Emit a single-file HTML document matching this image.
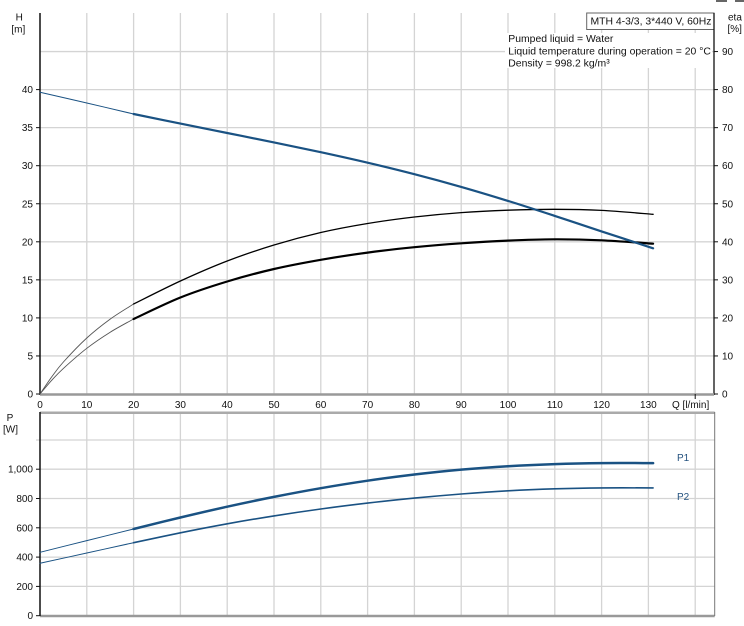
<!DOCTYPE html>
<html><head><meta charset="utf-8"><style>
html,body{margin:0;padding:0;background:#fff;}
svg{display:block;}
text{font-family:"Liberation Sans",Arial,sans-serif;font-size:10px;fill:#111;}
.lg{font-size:10.4px;}
</style></head><body>
<svg id="chart" width="744" height="626" viewBox="0 0 744 626" xmlns="http://www.w3.org/2000/svg">
<rect x="0" y="0" width="744" height="626" fill="#fff"/>
<rect x="716" y="0" width="11" height="2" fill="#666"/>
<rect x="735" y="0" width="9" height="2" fill="#666"/>

<g stroke="#d4d4d4" stroke-width="1.3">
<line x1="86.8" y1="13" x2="86.8" y2="394"/><line x1="133.6" y1="13" x2="133.6" y2="394"/>
<line x1="180.4" y1="13" x2="180.4" y2="394"/><line x1="227.2" y1="13" x2="227.2" y2="394"/>
<line x1="274" y1="13" x2="274" y2="394"/><line x1="320.8" y1="13" x2="320.8" y2="394"/>
<line x1="367.6" y1="13" x2="367.6" y2="394"/><line x1="414.4" y1="13" x2="414.4" y2="394"/>
<line x1="461.2" y1="13" x2="461.2" y2="394"/><line x1="508" y1="13" x2="508" y2="394"/>
<line x1="554.8" y1="13" x2="554.8" y2="394"/><line x1="601.6" y1="13" x2="601.6" y2="394"/>
<line x1="648.4" y1="13" x2="648.4" y2="394"/><line x1="695.2" y1="13" x2="695.2" y2="394"/>
<line x1="40" y1="355.95" x2="714" y2="355.95"/><line x1="40" y1="317.9" x2="714" y2="317.9"/>
<line x1="40" y1="279.85" x2="714" y2="279.85"/><line x1="40" y1="241.8" x2="714" y2="241.8"/>
<line x1="40" y1="203.75" x2="714" y2="203.75"/><line x1="40" y1="165.7" x2="714" y2="165.7"/>
<line x1="40" y1="127.65" x2="714" y2="127.65"/><line x1="40" y1="89.6" x2="714" y2="89.6"/>
<line x1="40" y1="51.55" x2="714" y2="51.55"/>
</g>

<rect x="505" y="33" width="207" height="35" fill="#fff"/>
<text class="lg" x="508.3" y="42">Pumped liquid = Water</text>
<text class="lg" x="508.3" y="54.5">Liquid temperature during operation = 20 °C</text>
<text class="lg" x="508.3" y="66.5">Density = 998.2 kg/m³</text>

<rect x="586.7" y="13" width="127.3" height="16.5" fill="#fff" stroke="#666" stroke-width="1"/>
<text class="lg" x="590.5" y="24.5">MTH 4-3/3, 3*440 V, 60Hz</text>

<line x1="40" y1="13" x2="40" y2="395" stroke="#111" stroke-width="1.5"/>
<line x1="714" y1="13" x2="714" y2="395" stroke="#111" stroke-width="1.3"/>
<line x1="40" y1="394.5" x2="714" y2="394.5" stroke="#999" stroke-width="2.5"/>

<g stroke="#111" stroke-width="1">
<line x1="36" y1="394" x2="40" y2="394"/><line x1="36" y1="355.95" x2="40" y2="355.95"/>
<line x1="36" y1="317.9" x2="40" y2="317.9"/><line x1="36" y1="279.85" x2="40" y2="279.85"/>
<line x1="36" y1="241.8" x2="40" y2="241.8"/><line x1="36" y1="203.75" x2="40" y2="203.75"/>
<line x1="36" y1="165.7" x2="40" y2="165.7"/><line x1="36" y1="127.65" x2="40" y2="127.65"/>
<line x1="36" y1="89.6" x2="40" y2="89.6"/>
<line x1="714" y1="394" x2="718" y2="394"/><line x1="714" y1="355.95" x2="718" y2="355.95"/>
<line x1="714" y1="317.9" x2="718" y2="317.9"/><line x1="714" y1="279.85" x2="718" y2="279.85"/>
<line x1="714" y1="241.8" x2="718" y2="241.8"/><line x1="714" y1="203.75" x2="718" y2="203.75"/>
<line x1="714" y1="165.7" x2="718" y2="165.7"/><line x1="714" y1="127.65" x2="718" y2="127.65"/>
<line x1="714" y1="89.6" x2="718" y2="89.6"/><line x1="714" y1="51.55" x2="718" y2="51.55"/>
<line x1="695.2" y1="394" x2="695.2" y2="399"/>
</g>

<g text-anchor="end">
<text x="33" y="397.5">0</text><text x="33" y="359.5">5</text><text x="33" y="321.4">10</text>
<text x="33" y="283.4">15</text><text x="33" y="245.3">20</text><text x="33" y="207.3">25</text>
<text x="33" y="169.2">30</text><text x="33" y="131.2">35</text><text x="33" y="93.1">40</text>
</g>
<g>
<text x="722" y="397.5">0</text><text x="722" y="359.5">10</text><text x="722" y="321.4">20</text>
<text x="722" y="283.4">30</text><text x="722" y="245.3">40</text><text x="722" y="207.3">50</text>
<text x="722" y="169.2">60</text><text x="722" y="131.2">70</text><text x="722" y="93.1">80</text>
<text x="722" y="55">90</text>
</g>
<text x="19.3" y="20.5" text-anchor="middle">H</text>
<text x="18.3" y="32.5" text-anchor="middle">[m]</text>
<text x="728" y="20.5">eta</text>
<text x="727.5" y="32">[%]</text>

<g text-anchor="middle">
<text x="40" y="408">0</text><text x="86.8" y="408">10</text><text x="133.6" y="408">20</text>
<text x="180.4" y="408">30</text><text x="227.2" y="408">40</text><text x="274" y="408">50</text>
<text x="320.8" y="408">60</text><text x="367.6" y="408">70</text><text x="414.4" y="408">80</text>
<text x="461.2" y="408">90</text><text x="508" y="408">100</text><text x="554.8" y="408">110</text>
<text x="601.6" y="408">120</text><text x="648.4" y="408">130</text>
</g>
<text x="672" y="408">Q [l/min]</text>

<g fill="none" stroke-linejoin="round" stroke-linecap="round">
<polyline class="sm" stroke="#555" stroke-width="0.9" points="40,394 51.7,376.9 63.4,362 86.8,338 110.2,319.1 133.6,304"/>
<polyline class="sm" stroke="#000" stroke-width="1.3" points="133.6,304 180.4,281 227.2,261 274,245 320.8,232.5 367.6,223.5 414.4,217 461.2,212.6 508,210.2 554.8,209.3 601.6,210.4 653.1,214.3"/>
<polyline class="sm" stroke="#555" stroke-width="0.9" points="40,394 51.7,380.3 63.4,368.4 86.8,348.3 110.2,332.2 133.6,319"/>
<polyline class="sm" stroke="#000" stroke-width="2.2" points="133.6,319 180.4,297.5 227.2,281.5 274,269 320.8,259.8 367.6,252.6 414.4,247.2 461.2,243.3 508,240.6 554.8,239.3 601.6,240.3 653.1,243.7"/>
<polyline class="sm" stroke="#1a5283" stroke-width="1" points="40,92.3 86.8,103 133.6,114"/>
<polyline class="sm" stroke="#1a5283" stroke-width="2.2" points="133.6,114 180.4,123.6 227.2,133 274,142.4 320.8,152.2 367.6,162.7 414.4,174.2 461.2,186.9 508,200.9 554.8,215.9 601.6,231.4 653.1,248.3"/>
</g>

<g stroke="#d4d4d4" stroke-width="1.3">
<line x1="86.8" y1="413" x2="86.8" y2="615"/><line x1="133.6" y1="413" x2="133.6" y2="615"/>
<line x1="180.4" y1="413" x2="180.4" y2="615"/><line x1="227.2" y1="413" x2="227.2" y2="615"/>
<line x1="274" y1="413" x2="274" y2="615"/><line x1="320.8" y1="413" x2="320.8" y2="615"/>
<line x1="367.6" y1="413" x2="367.6" y2="615"/><line x1="414.4" y1="413" x2="414.4" y2="615"/>
<line x1="461.2" y1="413" x2="461.2" y2="615"/><line x1="508" y1="413" x2="508" y2="615"/>
<line x1="554.8" y1="413" x2="554.8" y2="615"/><line x1="601.6" y1="413" x2="601.6" y2="615"/>
<line x1="648.4" y1="413" x2="648.4" y2="615"/><line x1="695.2" y1="413" x2="695.2" y2="615"/>
<line x1="40" y1="586.4" x2="714.7" y2="586.4"/><line x1="40" y1="557.1" x2="714.7" y2="557.1"/>
<line x1="40" y1="527.8" x2="714.7" y2="527.8"/><line x1="40" y1="498.5" x2="714.7" y2="498.5"/>
<line x1="40" y1="469.2" x2="714.7" y2="469.2"/><line x1="36" y1="440" x2="714.7" y2="440"/>
</g>
<line x1="40" y1="412.7" x2="714.7" y2="412.7" stroke="#aaa" stroke-width="2.5"/>
<line x1="40" y1="616" x2="714.7" y2="616" stroke="#999" stroke-width="2.5"/>
<line x1="714.7" y1="412" x2="714.7" y2="616" stroke="#777" stroke-width="1"/>
<line x1="40" y1="412" x2="40" y2="616" stroke="#111" stroke-width="1.5"/>
<g stroke="#111" stroke-width="1">
<line x1="36" y1="615.7" x2="40" y2="615.7"/><line x1="36" y1="586.4" x2="40" y2="586.4"/>
<line x1="36" y1="557.1" x2="40" y2="557.1"/><line x1="36" y1="527.8" x2="40" y2="527.8"/>
<line x1="36" y1="498.5" x2="40" y2="498.5"/><line x1="36" y1="469.2" x2="40" y2="469.2"/>
</g>
<g text-anchor="end">
<text x="33" y="619.2">0</text><text x="33" y="589.9">200</text><text x="33" y="560.6">400</text>
<text x="33" y="531.3">600</text><text x="33" y="502">800</text><text x="33" y="472.7">1,000</text>
</g>
<text x="10" y="421" text-anchor="middle">P</text>
<text x="10.5" y="432.5" text-anchor="middle">[W]</text>

<g fill="none" stroke-linejoin="round" stroke-linecap="round">
<polyline class="sm" stroke="#1a5283" stroke-width="1" points="40,552.3 86.8,540.6 133.6,529"/>
<polyline class="sm" stroke="#1a5283" stroke-width="2.5" points="133.6,529 180.4,517.5 227.2,506.7 274,496.9 320.8,488.2 367.6,480.7 414.4,474.5 461.2,469.6 508,466.2 554.8,464.1 601.6,463.1 653.1,463.1"/>
<polyline class="sm" stroke="#1a5283" stroke-width="1" points="40,563.3 86.8,553 133.6,542.7"/>
<polyline class="sm" stroke="#1a5283" stroke-width="1.6" points="133.6,542.7 180.4,532.8 227.2,523.8 274,515.9 320.8,509 367.6,503.1 414.4,498.1 461.2,494 508,490.8 554.8,488.8 601.6,487.9 653.1,487.9"/>
</g>
<text x="677" y="461" style="fill:#24527f">P1</text>
<text x="677" y="500" style="fill:#24527f">P2</text>
</svg>
<script>
(function(){
  var ns="http://www.w3.org/2000/svg";
  var pls=document.querySelectorAll("polyline.sm");
  for(var k=0;k<pls.length;k++){
    var pl=pls[k];
    var raw=pl.getAttribute("points").trim().split(/\s+/);
    var p=raw.map(function(s){var a=s.split(",");return [parseFloat(a[0]),parseFloat(a[1])];});
    if(p.length<3) continue;
    var d="M"+p[0][0]+","+p[0][1];
    for(var i=0;i<p.length-1;i++){
      var p0=p[i>0?i-1:i],p1=p[i],p2=p[i+1],p3=p[i+2<p.length?i+2:i+1];
      var c1x=p1[0]+(p2[0]-p0[0])/6,c1y=p1[1]+(p2[1]-p0[1])/6;
      var c2x=p2[0]-(p3[0]-p1[0])/6,c2y=p2[1]-(p3[1]-p1[1])/6;
      d+=" C"+c1x.toFixed(2)+","+c1y.toFixed(2)+" "+c2x.toFixed(2)+","+c2y.toFixed(2)+" "+p2[0]+","+p2[1];
    }
    var path=document.createElementNS(ns,"path");
    path.setAttribute("d",d);
    ["stroke","stroke-width"].forEach(function(a){path.setAttribute(a,pl.getAttribute(a));});
    path.setAttribute("fill","none");
    path.setAttribute("stroke-linecap","round");
    path.setAttribute("stroke-linejoin","round");
    pl.parentNode.replaceChild(path,pl);
  }
})();
</script>
</body></html>
